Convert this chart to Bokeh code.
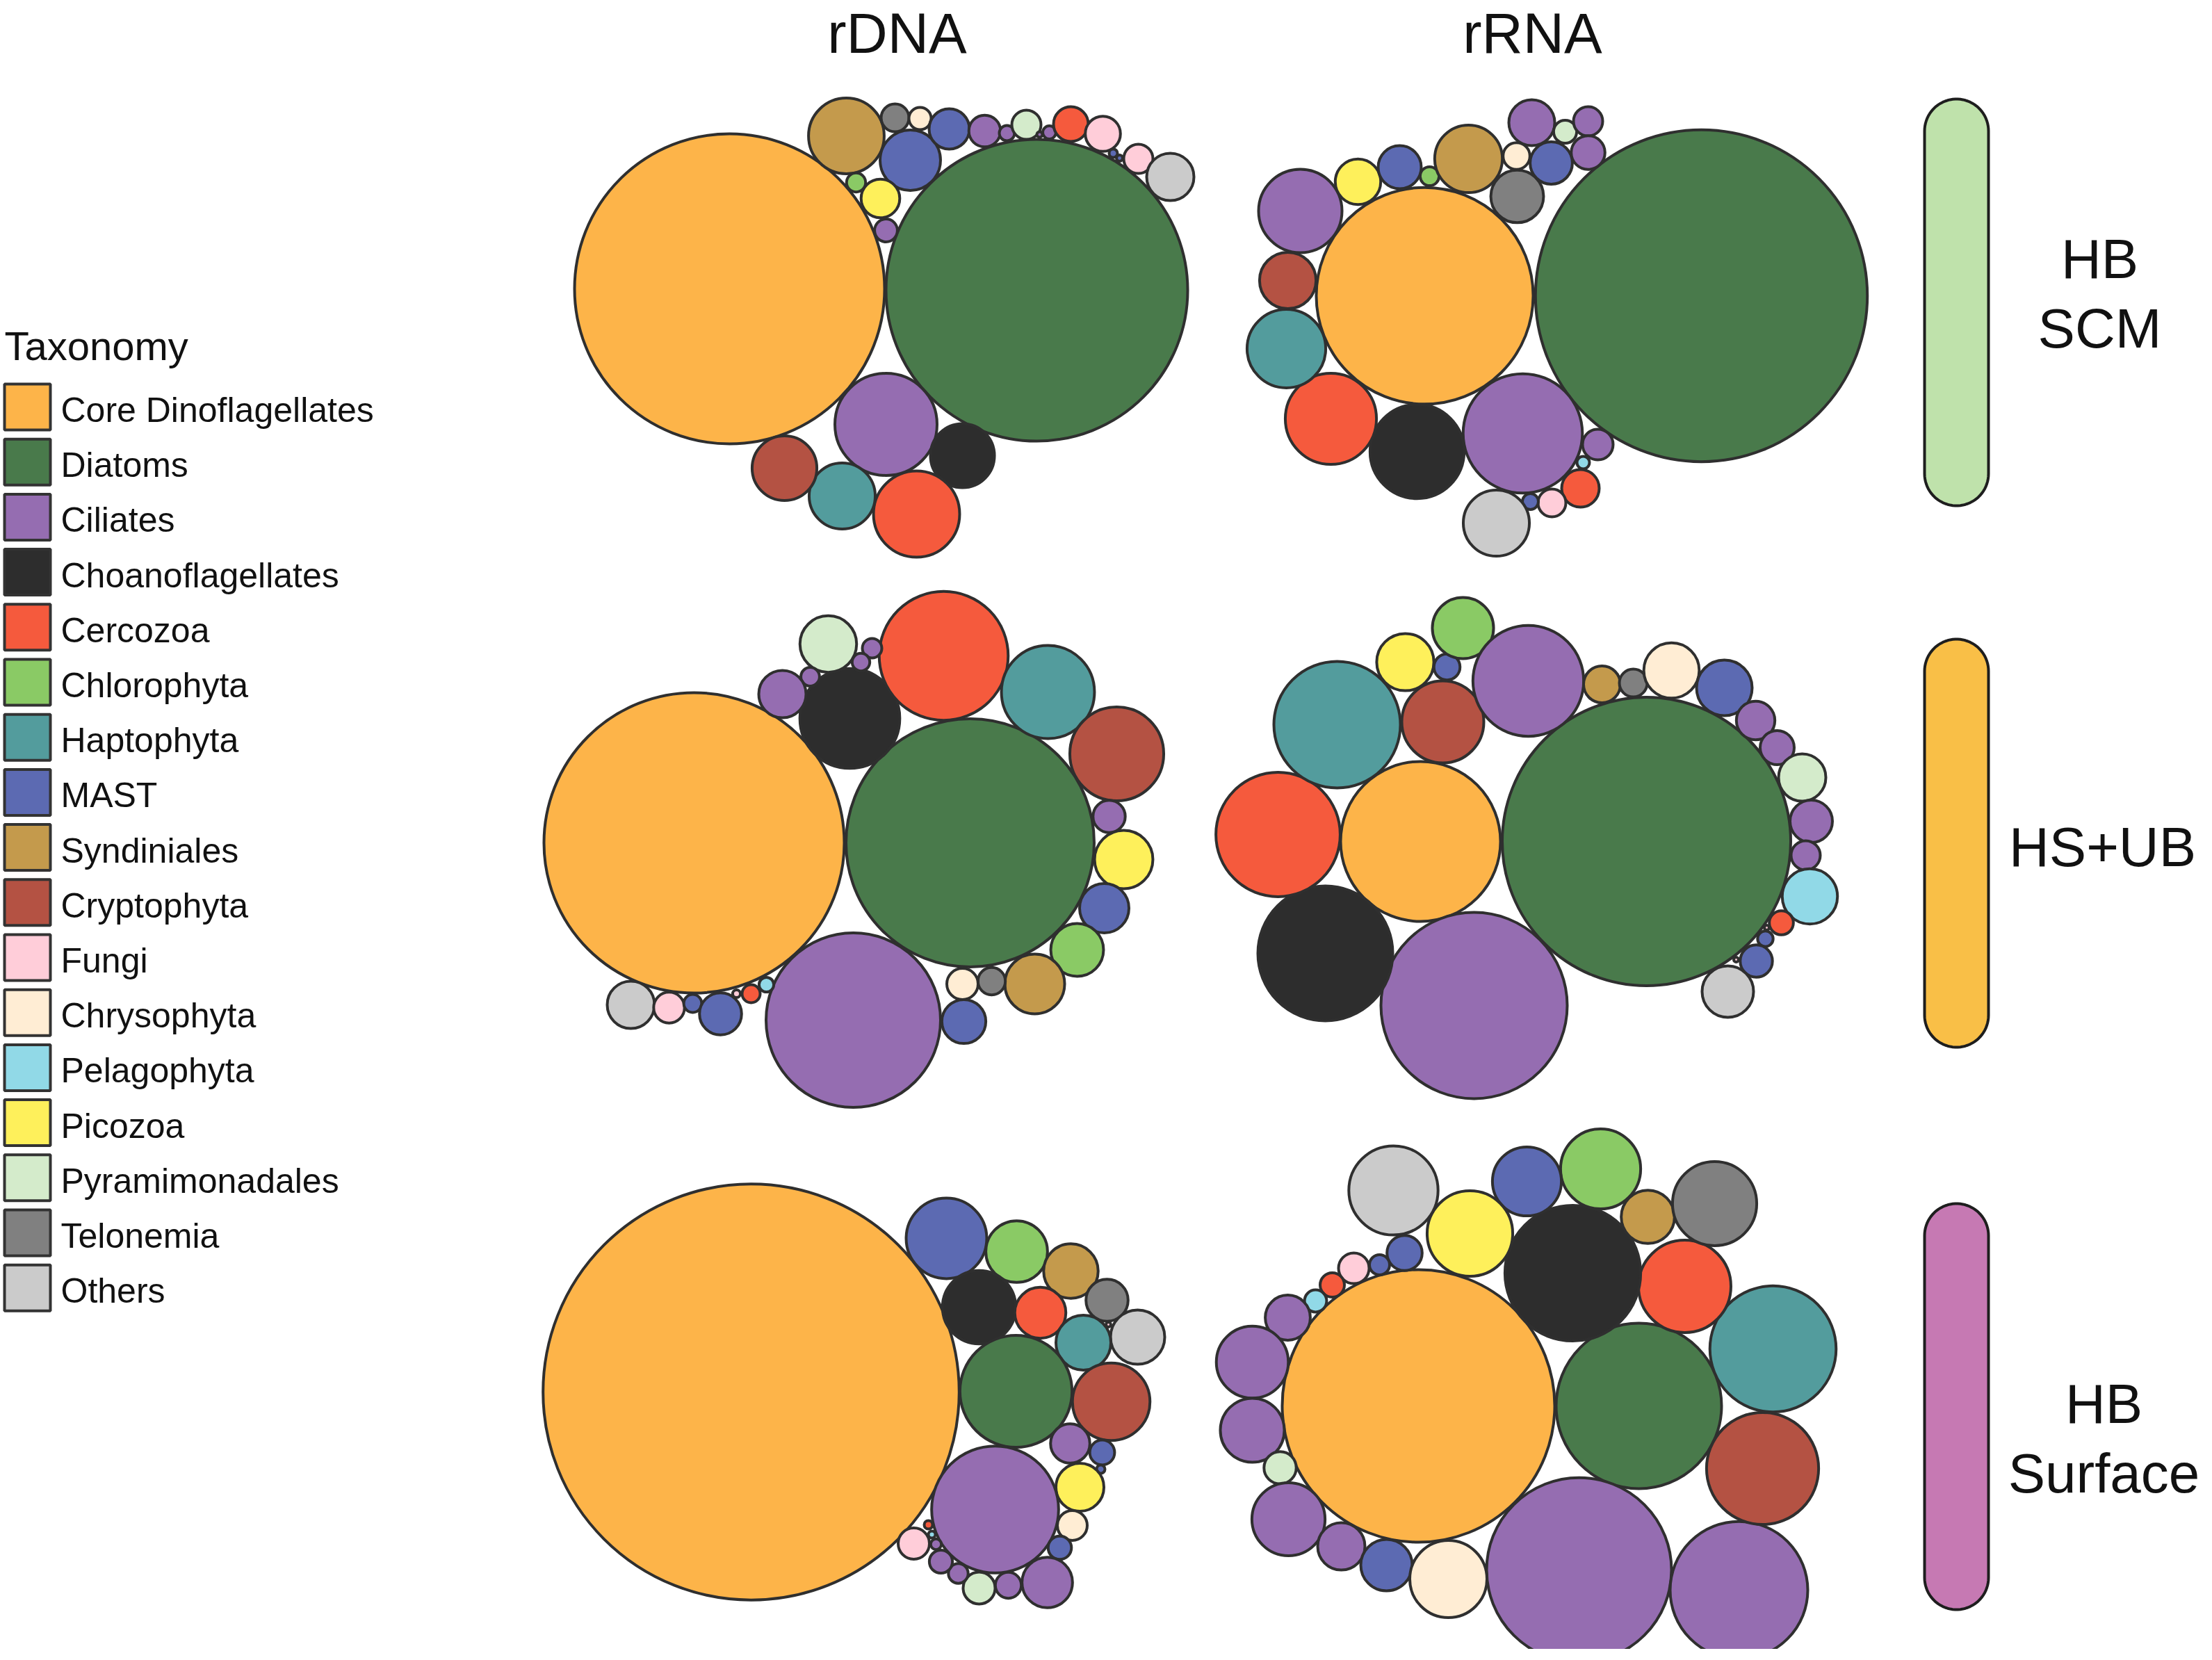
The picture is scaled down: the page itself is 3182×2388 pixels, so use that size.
import numpy as np
from bokeh.plotting import figure
from bokeh.models import Range1d, ColumnDataSource
from bokeh.embed import file_html
from bokeh.resources import INLINE
from bokeh.core.properties import value

# ---------------- data ----------------
TAXA = ["Core Dinoflagellates", "Diatoms", "Ciliates", "Choanoflagellates", "Cercozoa",
        "Chlorophyta", "Haptophyta", "MAST", "Syndiniales", "Cryptophyta", "Fungi",
        "Chrysophyta", "Pelagophyta", "Picozoa", "Pyramimonadales", "Telonemia", "Others"]
CODES = ["Din", "Dia", "Cil", "Cho", "Cer", "Chl", "Hap", "MAST", "Syn", "Cry", "Fun",
         "Chr", "Pel", "Pic", "Pyr", "Tel", "Oth"]
COLORS = ["#FDB449", "#497A4B", "#956DB1", "#2D2D2D", "#F55A3D", "#8ACA65", "#539C9D",
          "#5C6AB2", "#C49A4C", "#B45243", "#FFCDD9", "#FFEDD4", "#91D9E7", "#FEF05B",
          "#D4EBCB", "#808080", "#CBCBCB"]
COLUMNS = ["rDNA", "rRNA"]
ROW_LINES = [["HB", "SCM"], ["HS+UB"], ["HB", "Surface"]]
ROW_COLORS = ["#BFE2AB", "#F9BF47", "#C679B3"]

# relative abundance of each group (bubble area units) and its taxonomy
rdna_scm_taxa = ["Din", "Dia", "Cil", "Cho", "Cer", "Hap", "Cry", "Syn", "Tel", "Chr", "MAST", "MAST", "Cil",
                 "Cil", "Pyr", "Cil", "Cil", "Cer", "Fun", "MAST", "MAST", "Fun", "Oth", "Chl", "Pic", "Cil"]
rdna_scm_abund = [497.3, 470.9, 54.0, 21.2, 38.4, 22.6, 21.7, 29.6, 4.0, 2.56, 18.9, 8.41, 5.2,
                  1.21, 4.41, 0.16, 0.9, 6.25, 6.4, 0.36, 0.2, 4.41, 11.56, 1.88, 7.73, 2.69]

rrna_scm_taxa = ["Dia", "Din", "Cil", "Cho", "Cer", "Hap", "Cry", "Cil", "Pic", "MAST", "Chl", "Syn", "Tel",
                 "Chr", "MAST", "Cil", "Pyr", "Cil", "Cil", "Cil", "Pel", "Cer", "Fun", "MAST", "Oth"]
rrna_scm_abund = [569.8, 243.4, 73.6, 45.8, 43.0, 32.0, 16.5, 36.0, 10.7, 9.61, 1.85, 23.7, 14.4,
                  3.72, 9.24, 10.9, 2.76, 4.41, 5.9, 4.84, 0.81, 7.29, 4.0, 1.32, 22.6]

rdna_hsub_taxa = ["Din", "Dia", "Cil", "Cho", "Cer", "Hap", "Cry", "Cil", "Pic", "MAST", "Chl", "Syn", "Tel",
                  "Chr", "MAST", "Pyr", "Cil", "Cil", "Cil", "Cil", "Oth", "Fun", "MAST", "MAST", "Fun",
                  "Cer", "Pel"]
rdna_hsub_abund = [466.6, 318.6, 157.5, 51.6, 86.1, 44.8, 45.6, 5.38, 17.6, 12.6, 14.4, 18.5, 3.88,
                   5.06, 10.0, 16.6, 1.96, 1.61, 1.8, 11.56, 11.56, 4.93, 1.66, 9.18, 0.31, 1.69, 1.12]

rrna_hsub_taxa = ["Dia", "Din", "Cil", "Cho", "Cer", "Hap", "Cry", "Pic", "MAST", "Chl", "Cil", "Syn", "Tel",
                  "Chr", "MAST", "Cil", "Cil", "Pyr", "Cil", "Cil", "Pel", "Cer", "Fun", "MAST", "MAST",
                  "Fun", "Oth"]
rrna_hsub_abund = [430.6, 132.3, 179.6, 94.1, 79.9, 82.8, 34.8, 16.9, 3.53, 19.4, 63.5, 7.02, 4.0,
                   15.9, 16.0, 7.67, 6.0, 11.56, 9.3, 4.41, 15.8, 3.0, 0.12, 1.25, 5.38, 0.12, 13.7]

rdna_surf_taxa = ["Din", "MAST", "Chl", "Syn", "Tel", "Oth", "Fun", "Cho", "Cer", "Hap", "Dia", "Cry", "Cil",
                  "MAST", "MAST", "Pic", "Cil", "Chr", "MAST", "Cil", "Cil", "Pyr", "Cil", "Cil", "Cil",
                  "Pel", "Cer", "Fun"]
rdna_surf_abund = [895.8, 33.6, 19.7, 15.4, 9.18, 15.2, 0.12, 27.8, 13.5, 15.6, 65.0, 31.1, 8.0,
                   3.2, 0.36, 11.9, 83.4, 4.62, 2.82, 13.2, 3.5, 5.29, 2.02, 2.76, 0.59, 0.25, 0.36, 5.06]

rrna_surf_taxa = ["Din", "Dia", "Cil", "Cil", "Cry", "Hap", "Cer", "Cho", "Syn", "Tel", "Chl", "MAST", "Pic",
                  "Oth", "MAST", "MAST", "Fun", "Cer", "Pel", "Cil", "Cil", "Cil", "Pyr", "Cil", "Cil",
                  "MAST", "Chr"]
rrna_surf_abund = [384.2, 141.6, 176.9, 98.0, 65.0, 82.4, 44.2, 95.3, 14.7, 36.7, 33.2, 24.6, 37.9,
                   41.2, 6.4, 2.1, 4.84, 3.06, 2.53, 10.5, 26.8, 21.2, 5.38, 27.7, 11.56, 13.7, 30.8]

# ---------------- packing layout (bubble centres, page units) ----------------
rdna_scm_cx = [1049, 1491, 1274, 1384, 1318, 1211, 1128, 1217, 1287, 1323, 1309, 1365, 1416,
               1448, 1476, 1495, 1509, 1540, 1586, 1601, 1610, 1637, 1683, 1231, 1266, 1274]
rdna_scm_cy = [415, 417, 610, 655, 739, 713, 673, 195, 169, 170, 230, 185, 188,
               191, 179, 193, 190, 178, 192, 220, 227, 228, 254, 262, 285, 331]
rrna_scm_cx = [2447, 2049, 2190, 2038, 1914, 1850, 1852, 1870, 1953, 2013, 2056, 2112, 2182,
               2181, 2231, 2203, 2251, 2284, 2284, 2298, 2277, 2273, 2232, 2201, 2152]
rrna_scm_cy = [425, 425, 623, 649, 602, 501, 403, 303, 261, 240, 253, 228, 282,
               224, 234, 176, 189, 174, 219, 639, 665, 702, 723, 721, 752]
rdna_hsub_cx = [998, 1395, 1227, 1222, 1357, 1507, 1606, 1595, 1616, 1588, 1549, 1488, 1426,
                1384, 1386, 1191, 1254, 1238, 1165, 1125, 907, 962, 996, 1036, 1059, 1080, 1102]
rdna_hsub_cy = [1212, 1212, 1467, 1033, 943, 995, 1084, 1174, 1236, 1306, 1366, 1415, 1411,
                1415, 1469, 926, 932, 952, 973, 998, 1445, 1449, 1443, 1458, 1429, 1429, 1416]
rrna_hsub_cx = [2368, 2043, 2120, 1906, 1838, 1923, 2075, 2021, 2081, 2104, 2198, 2304, 2349,
                2404, 2480, 2525, 2556, 2592, 2605, 2597, 2603, 2562, 2541, 2539, 2526, 2497, 2485]
rrna_hsub_cy = [1210, 1210, 1446, 1371, 1200, 1042, 1038, 952, 959, 903, 979, 984, 982,
                964, 989, 1036, 1075, 1118, 1181, 1230, 1289, 1327, 1334, 1350, 1382, 1380, 1426]
rdna_surf_cx = [1080, 1361, 1462, 1540, 1592, 1636, 1594, 1408, 1496, 1558, 1461, 1598, 1539,
                1585, 1583, 1553, 1431, 1542, 1524, 1506, 1450, 1408, 1378, 1353, 1346, 1340, 1335, 1314]
rdna_surf_cy = [2002, 1781, 1800, 1828, 1870, 1923, 1905, 1880, 1888, 1931, 2001, 2016, 2076,
                2089, 2113, 2139, 2171, 2194, 2226, 2276, 2280, 2284, 2263, 2246, 2221, 2207, 2193, 2220]
rrna_surf_cx = [2040, 2357, 2271, 2501, 2535, 2550, 2423, 2262, 2370, 2466, 2302, 2196, 2114,
                2004, 2020, 1984, 1947, 1916, 1892, 1852, 1801, 1801, 1841, 1853, 1929, 1994, 2083]
rrna_surf_cy = [2022, 2022, 2258, 2287, 2112, 1940, 1850, 1831, 1750, 1731, 1681, 1699, 1774,
                1712, 1802, 1819, 1824, 1848, 1871, 1895, 1959, 2057, 2111, 2185, 2224, 2251, 2271]

PANELS = [
    (rdna_scm_taxa, rdna_scm_abund, rdna_scm_cx, rdna_scm_cy),
    (rrna_scm_taxa, rrna_scm_abund, rrna_scm_cx, rrna_scm_cy),
    (rdna_hsub_taxa, rdna_hsub_abund, rdna_hsub_cx, rdna_hsub_cy),
    (rrna_hsub_taxa, rrna_hsub_abund, rrna_hsub_cx, rrna_hsub_cy),
    (rdna_surf_taxa, rdna_surf_abund, rdna_surf_cx, rdna_surf_cy),
    (rrna_surf_taxa, rrna_surf_abund, rrna_surf_cx, rrna_surf_cy),
]

FONT = value("Liberation Sans")
OUTLINE = "#2F2F2F"
TEXT = "#111111"

W, H = 3166, 2372
p = figure(width=W, height=H, output_backend="svg", toolbar_location=None,
           x_range=Range1d(0, W), y_range=Range1d(H, 0),
           x_axis_type=None, y_axis_type=None, min_border=0,
           background_fill_color="white", border_fill_color="white")
p.grid.visible = False
p.outline_line_color = None

color_of = dict(zip(CODES, COLORS))

# bubbles
xs, ys, rs, cs = [], [], [], []
for taxa, abund, cx, cy in PANELS:
    for t, a, x, y in zip(taxa, abund, cx, cy):
        xs.append(x)
        ys.append(y)
        rs.append(10.0 * np.sqrt(a))
        cs.append(color_of[t])
p.circle(x="x", y="y", radius="r", source=ColumnDataSource(dict(x=xs, y=ys, r=rs, c=cs)),
         fill_color="c", line_color=OUTLINE, line_width=4)

def mid(baseline, fs):
    # vertical middle of capital letters for a given baseline
    return baseline - 0.35 * fs

# column titles (kept just inside the top edge)
p.text(x=[1290, 2204], y=[47, 47], text=COLUMNS, text_font=FONT,
       text_font_size=value("82px"), text_align="center", text_baseline="middle",
       text_color=TEXT)

# legend
n = len(TAXA)
idx = np.arange(n)
pitch = 79.2
p.text(x=[6], y=[mid(517, 58)], text=["Taxonomy"], text_font=FONT, text_font_size=value("58px"),
       text_align="left", text_baseline="middle", text_color=TEXT)
p.rect(x=[39] * n, y=585 + pitch * idx, width=66, height=66, fill_color=COLORS,
       line_color="#333333", line_width=4)
p.text(x=[87] * n, y=mid(607, 50) + pitch * idx, text=TAXA, text_font=FONT,
       text_font_size=value("50px"), text_align="left", text_baseline="middle",
       text_color=TEXT)

# row strips (rounded bars) and labels
bar_cx, bar_w = 2814, 92
bar_spans = [(142, 727), (919, 1506), (1731, 2315)]
def stadium(cx, top, bottom, w):
    r = w / 2.0
    t1 = np.linspace(np.pi, 2 * np.pi, 40)
    t2 = np.linspace(0, np.pi, 40)
    x = np.concatenate([cx + r * np.cos(t1), cx + r * np.cos(t2)])
    y = np.concatenate([top + r + r * np.sin(t1), bottom - r + r * np.sin(t2)])
    return x, y
bx, by = [], []
for (top, bot) in bar_spans:
    sx, sy = stadium(bar_cx, top, bot, bar_w)
    bx.append(sx)
    by.append(sy)
p.patches(xs=bx, ys=by, fill_color=ROW_COLORS, line_color="#1E1E1E", line_width=4)

label_x = [3020, 3024, 3026]
label_base = [[400, 500], [1246], [2047, 2147]]
tx, ty, tt = [], [], []
for lines, lx, bases in zip(ROW_LINES, label_x, label_base):
    for line, b in zip(lines, bases):
        tx.append(lx)
        ty.append(mid(b, 81))
        tt.append(line)
p.text(x=tx, y=ty, text=tt, text_font=FONT, text_font_size=value("80px"),
       text_align="center", text_baseline="middle", text_color=TEXT)

open("out.html", "w").write(file_html(p, INLINE))
